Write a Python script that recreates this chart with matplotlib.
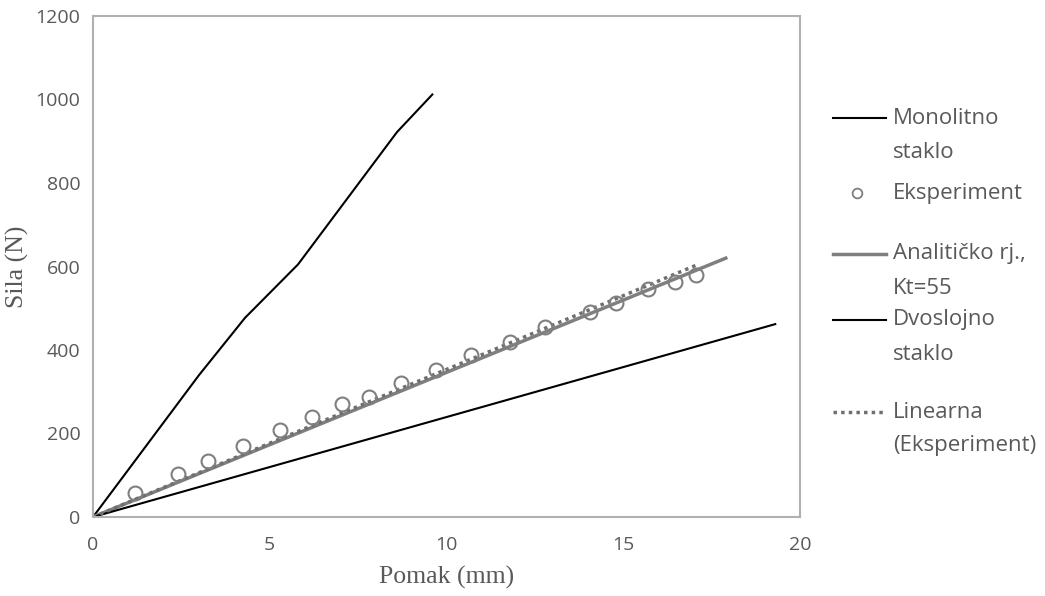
import matplotlib
matplotlib.use('Agg')
import matplotlib.pyplot as plt
from matplotlib.lines import Line2D
import numpy as np

plt.rcParams['font.family'] = ['Open Sans', 'DejaVu Sans']

# Monolitno staklo
mono_x = [0, 3.0, 4.3, 5.8, 8.6, 9.6]
mono_y = [0, 340, 477, 605, 922, 1012]

# Eksperiment
exp_x = [1.2, 2.4, 3.25, 4.25, 5.3, 6.2, 7.05, 7.8, 8.7, 9.7, 10.7, 11.8,
         12.8, 14.05, 14.8, 15.7, 16.45, 17.05]
exp_y = [57, 103, 135, 171, 209, 240, 270, 287, 322, 351, 388, 418,
         455, 490, 512, 547, 564, 580]

# Analiticko rj., Kt=55
anal_x = [0, 17.9]
anal_y = [0, 620]

# Dvoslojno staklo
dvo_x = [0, 19.3]
dvo_y = [0, 462]

xticks = [0, 5, 10, 15, 20]
yticks = [0, 200, 400, 600, 800, 1000, 1200]

# linear trendline through origin (Excel "Linearna")
ex = np.array(exp_x)
ey = np.array(exp_y)
k = (ex * ey).sum() / (ex * ex).sum()
trend_x = np.array([0, ex.max()])
trend_y = k * trend_x

grey = '#595959'

fig = plt.figure(figsize=(10.45, 5.96), dpi=100)
ax = fig.add_axes([93 / 1045, 1 - 517 / 596, (800 - 93) / 1045, (517 - 16) / 596])

ax.plot(mono_x, mono_y, color='black', lw=1.5)
ax.plot(anal_x, anal_y, color='#7f7f7f', lw=2.5)
ax.plot(dvo_x, dvo_y, color='black', lw=1.5)
ax.plot(trend_x, trend_y, color='#6f6f6f', lw=2.5, ls=(0, (1, 1.2)))
ax.plot(exp_x, exp_y, ls='none', marker='o', ms=10, mfc='none',
        mec='#7f7f7f', mew=1.5)

ax.set_xlim(0, 20)
ax.set_ylim(0, 1200)
ax.set_xticks(xticks)
ax.set_yticks(yticks)
ax.tick_params(length=0, labelsize=14, colors=grey)
ax.tick_params(axis='x', pad=14)
ax.tick_params(axis='y', pad=9)
for s in ax.spines.values():
    s.set_color('#b0b0b0')
    s.set_linewidth(1.5)

ax.set_xlabel('Pomak (mm)', family='Liberation Serif', fontsize=18.5,
              color=grey, labelpad=8)
ax.set_ylabel('Sila (N)', family='Liberation Serif', fontsize=18.5,
              color=grey, labelpad=5)

# legend drawn by hand to follow Excel's spacing
entries = [
    (['Monolitno', 'staklo'], 118, dict(color='black', lw=1.5)),
    (['Eksperiment'], 193, 'marker'),
    (['Analitičko rj.,', 'Kt=55'], 254, dict(color='#7f7f7f', lw=2.5)),
    (['Dvoslojno', 'staklo'], 320, dict(color='black', lw=1.5)),
    (['Linearna', '(Eksperiment)'], 412, dict(color='#6f6f6f', lw=2.5, ls=(0, (1, 1.2)))),
]
fx = lambda px: px / 1045
fy = lambda py: 1 - py / 596
for lines, py, style in entries:
    if style == 'marker':
        fig.add_artist(Line2D([fx(857)], [fy(py)], ls='none', marker='o', ms=7,
                              mfc='none', mec='#7f7f7f', mew=1.3))
    else:
        fig.add_artist(Line2D([fx(833), fx(886)], [fy(py), fy(py)], **style))
    for i, t in enumerate(lines):
        fig.text(fx(893), fy(py + 34 * i), t, fontsize=16, color=grey,
                 va='center', ha='left')

fig.savefig('out.png', dpi=100)
